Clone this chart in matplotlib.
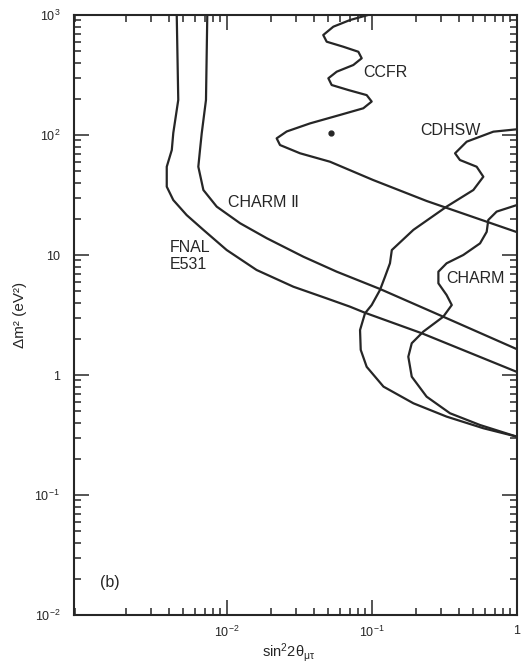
import matplotlib
matplotlib.use("Agg")
import matplotlib.pyplot as plt
from matplotlib.ticker import FixedLocator, FixedFormatter, LogLocator, NullFormatter

plt.rcParams['font.family'] = ['Liberation Sans', 'DejaVu Sans']
plt.rcParams['mathtext.default'] = 'regular'

INK = '#262626'

# Exclusion contours: sin^2(2theta_mu_tau) vs delta m^2 (eV^2)
fnal_x = [0.00450, 0.00461, 0.00426, 0.00416, 0.00384, 0.00384, 0.00426, 0.00527,
          0.00687, 0.00995, 0.0160, 0.0287, 0.0487, 0.0705, 0.0895, 0.220, 1.0]
fnal_y = [1000, 196, 104, 75, 54.4, 37.1, 28.7, 21.5,
          16.2, 11.0, 7.50, 5.44, 4.35, 3.71, 3.30, 2.23, 1.06]

charm2_x = [0.00731, 0.00716, 0.00669, 0.00651, 0.00634, 0.00687, 0.00849, 0.0123,
            0.0188, 0.0336, 0.0571, 0.1135, 0.310, 1.0]
charm2_y = [1000, 196, 103, 75, 54.4, 34.8, 25.3, 18.4,
            13.8, 9.68, 7.26, 5.21, 3.06, 1.64]

ccfr_x = [0.0938, 0.0705, 0.0541, 0.0461, 0.0487, 0.0634, 0.0805, 0.0849, 0.0743,
          0.0571, 0.0500, 0.0527, 0.0687, 0.0919, 0.0995, 0.0871, 0.0602, 0.0374,
          0.0258, 0.0220, 0.0232, 0.0319, 0.0513, 0.1016, 0.238, 1.0]
ccfr_y = [1000, 908, 799, 681, 599, 544, 494, 436, 383,
          337, 297, 261, 237, 215, 190, 167, 147, 125,
          107, 93.8, 82.5, 70.4, 59.9, 42.2, 28.2, 15.5]

cdhsw_x = [1.0, 0.687, 0.450, 0.374, 0.404, 0.527, 0.586, 0.500, 0.327, 0.193,
           0.137, 0.133, 0.123, 0.1135, 0.0995, 0.0895, 0.0827, 0.0836, 0.0919,
           0.120, 0.193, 0.327, 0.586, 1.0]
cdhsw_y = [111.6, 106.6, 88.0, 70.4, 61.9, 54.4, 44.9, 34.8, 25.3, 16.2,
           11.0, 8.53, 6.60, 5.11, 3.83, 3.27, 2.37, 1.62, 1.17,
           0.80, 0.581, 0.450, 0.360, 0.306]

charm_x = [1.0, 0.724, 0.634, 0.618, 0.556, 0.426, 0.327, 0.287, 0.287, 0.327,
           0.355, 0.310, 0.226, 0.188, 0.178, 0.188, 0.238, 0.345, 0.556, 1.0]
charm_y = [26.1, 23.0, 19.6, 15.6, 12.5, 10.0, 8.53, 7.26, 5.81, 4.64,
           3.83, 3.06, 2.30, 1.84, 1.42, 0.968, 0.660, 0.480, 0.383, 0.306]

# best-fit point marked inside the CCFR contour
ccfr_point = (0.052, 103)

# label text and anchor (left edge, vertical centre) in data units
labels = ["CCFR", "CDHSW", "CHARM Ⅱ", "FNAL\nE531", "CHARM", "(b)"]
label_x = [0.0867, 0.214, 0.0102, 0.00404, 0.327, 0.00133]
label_y = [335, 108, 27.4, 9.8, 6.43, 0.0188]

x_ticks = [1e-2, 1e-1, 1]
x_ticklabels = ["$10^{-2}$", "$10^{-1}$", "1"]
y_ticks = [1e-2, 1e-1, 1, 10, 1e2, 1e3]
y_ticklabels = ["$10^{-2}$", "$10^{-1}$", "1", "10", "$10^{2}$", "$10^{3}$"]

fig = plt.figure(figsize=(5.21, 6.64), dpi=100)
ax = fig.add_axes([0.142, 0.0738, 0.8503, 0.9036])
ax.set_xscale('log')
ax.set_yscale('log')
ax.set_xlim(8.8e-4, 1)
ax.set_ylim(1e-2, 1e3)

for xs, ys in [(fnal_x, fnal_y), (charm2_x, charm2_y), (ccfr_x, ccfr_y),
               (cdhsw_x, cdhsw_y), (charm_x, charm_y)]:
    ax.plot(xs, ys, color=INK, lw=1.6, solid_joinstyle='round')

ax.plot([ccfr_point[0]], [ccfr_point[1]], 'o', color=INK, ms=3.5)

for t, lx, ly in zip(labels, label_x, label_y):
    ax.text(lx, ly, t, fontsize=11.5, color=INK, ha='left', va='center',
            linespacing=1.1)

ax.xaxis.set_major_locator(FixedLocator(x_ticks))
ax.xaxis.set_major_formatter(FixedFormatter(x_ticklabels))
ax.xaxis.set_minor_locator(LogLocator(base=10, subs=range(2, 10), numticks=20))
ax.xaxis.set_minor_formatter(NullFormatter())
ax.yaxis.set_major_locator(FixedLocator(y_ticks))
ax.yaxis.set_major_formatter(FixedFormatter(y_ticklabels))
ax.yaxis.set_minor_locator(LogLocator(base=10, subs=range(2, 10), numticks=20))
ax.yaxis.set_minor_formatter(NullFormatter())

ax.tick_params(which='both', direction='in', top=True, right=True,
               color=INK, width=1.1)
ax.tick_params(which='major', length=11, labelsize=9, labelcolor=INK)
ax.tick_params(which='minor', length=5)
ax.tick_params(axis='y', which='major', pad=10)
ax.tick_params(axis='x', which='major', pad=7)

for s in ax.spines.values():
    s.set_color(INK)
    s.set_linewidth(1.5)

ax.set_ylabel("Δm² (eV²)", fontsize=11, color=INK)
ax.yaxis.set_label_coords(-0.106, 0.50)
ax.set_xlabel(r"sin$^2$2$\theta_{\mu\tau}$", fontsize=10.5, color=INK)
ax.xaxis.set_label_coords(0.485, -0.044)

fig.savefig("out.png", dpi=100, facecolor='white')
